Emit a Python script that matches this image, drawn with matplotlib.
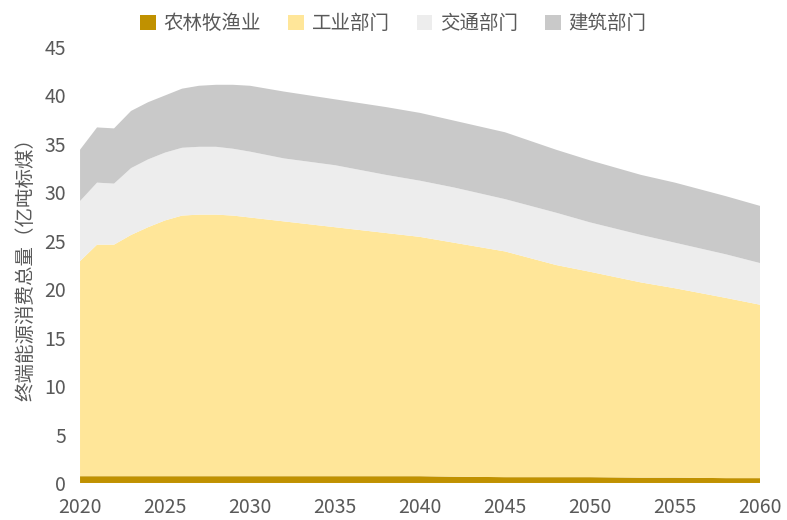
import matplotlib
matplotlib.use('Agg')
import matplotlib.pyplot as plt
import numpy as np

plt.rcParams['font.family'] = ['Noto Sans CJK SC', 'DejaVu Sans']

# years and sector consumption (亿吨标煤)
years = [2020, 2021, 2022, 2023, 2024, 2025, 2026, 2027, 2028, 2029, 2030,
         2032, 2035, 2038, 2040, 2042, 2045, 2048, 2050, 2053, 2055, 2058, 2060]
agri = [0.7, 0.7, 0.7, 0.7, 0.7, 0.7, 0.7, 0.7, 0.7, 0.7, 0.7,
        0.7, 0.7, 0.7, 0.7, 0.65, 0.6, 0.6, 0.6, 0.55, 0.55, 0.5, 0.5]
industry = [22.2, 23.9, 23.9, 24.9, 25.7, 26.4, 26.9, 27.0, 27.0, 26.9, 26.7,
            26.3, 25.7, 25.1, 24.7, 24.15, 23.3, 21.9, 21.2, 20.15, 19.55, 18.6, 17.9]
transport = [6.2, 6.4, 6.3, 6.9, 7.0, 7.0, 7.0, 7.0, 7.0, 6.9, 6.8,
             6.5, 6.4, 6.0, 5.8, 5.7, 5.4, 5.4, 5.1, 4.9, 4.7, 4.5, 4.3]
building = [5.3, 5.7, 5.7, 5.9, 5.9, 5.9, 6.1, 6.3, 6.4, 6.6, 6.8,
            6.9, 6.8, 7.0, 7.0, 6.9, 6.9, 6.5, 6.4, 6.2, 6.2, 6.0, 5.9]

labels = ['农林牧渔业', '工业部门', '交通部门', '建筑部门']
colors = ['#C09100', '#FFE699', '#EDEDED', '#C9C9C9']
text_color = '#595959'

fig = plt.figure(figsize=(7.87, 5.2), dpi=100)
ax = fig.add_axes([0.1017, 0.0712, 0.864, 0.8384])

ax.stackplot(years, agri, industry, transport, building,
             labels=labels, colors=colors, linewidth=0)

ax.set_xlim(2020, 2060)
ax.set_ylim(0, 45)
ax.set_xticks(range(2020, 2061, 5))
ax.set_yticks(range(0, 46, 5))
ax.tick_params(length=0, labelsize=14, labelcolor=text_color)
ax.tick_params(axis='x', pad=10)
ax.tick_params(axis='y', pad=10)
for s in ax.spines.values():
    s.set_visible(False)

ax.set_ylabel('终端能源消费总量（亿吨标煤）', fontsize=14, color=text_color, labelpad=6)

fig.legend(loc='center', bbox_to_anchor=(0.5, 0.955), ncol=4, frameon=False,
           fontsize=14, labelcolor=text_color, handlelength=0.8, handleheight=0.8,
           handletextpad=0.4, columnspacing=1.4)

fig.savefig('out.png', dpi=100)
